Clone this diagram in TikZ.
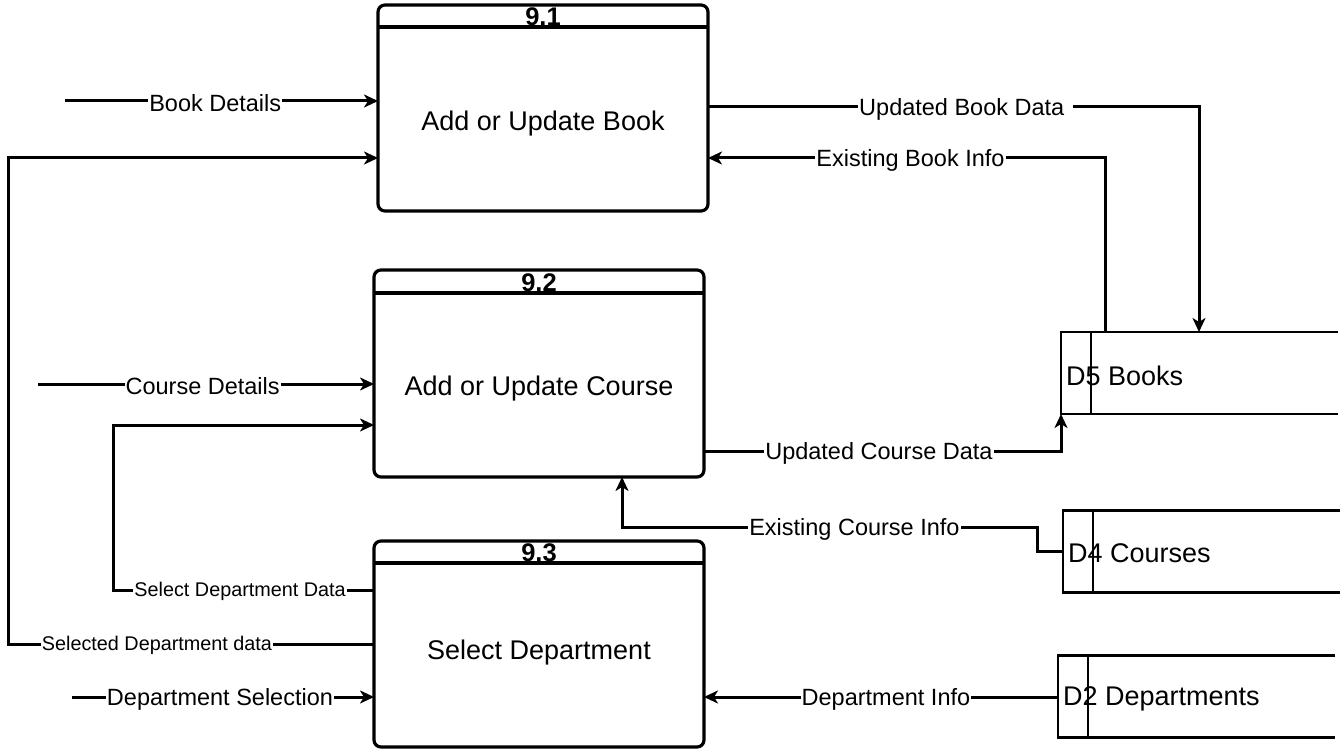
\documentclass[tikz,border=0pt]{standalone}
\usepackage{fontspec}
\setmainfont{Liberation Sans}
\usetikzlibrary{arrows.meta,calc}
\begin{document}
\begin{tikzpicture}[x=1pt,y=-1pt,
  procbox/.style={draw,line width=3.2pt,rounded corners=7pt,minimum width=330pt,inner sep=0pt,outer sep=0pt},
  storebox/.style={inner sep=0pt,outer sep=0pt,minimum width=277pt,minimum height=82pt},
  storeline/.style={line width=2.2pt},
  flow/.style={line width=3pt,-{Stealth[length=14pt,width=13pt,inset=4pt]}},
  lbl/.style={fill=white,inner sep=1pt,yshift=-2pt,font=\fontsize{23.5}{26}\selectfont},
  slbl/.style={fill=white,inner sep=1pt,yshift=-1.5pt,font=\fontsize{19.8}{22}\selectfont},
  maintxt/.style={font=\fontsize{27}{32}\selectfont,inner sep=0pt},
  headtxt/.style={font=\bfseries\fontsize{25.5}{28}\selectfont,inner sep=0pt},
  storetxt/.style={font=\fontsize{27}{32}\selectfont,inner sep=0pt,anchor=west}]
\useasboundingbox[fill=white] (0,0) rectangle (1342,749);

% processes
\node[procbox,minimum height=206pt] (b1) at (543,108) {};
\draw[line width=3.2pt] ($(b1.north west)+(0,22)$) -- ($(b1.north east)+(0,22)$);
\node[headtxt] (h1) at (543,17) {9.1};
\node[maintxt] (t1) at (543,124) {Add or Update Book};

\node[procbox,minimum height=207pt] (b2) at (539,373.5) {};
\draw[line width=3.2pt] ($(b2.north west)+(0,23)$) -- ($(b2.north east)+(0,23)$);
\node[headtxt] (h2) at (539,282.5) {9.2};
\node[maintxt] (t2) at (539,389) {Add or Update Course};

\node[procbox,minimum height=206pt] (b3) at (539,644) {};
\draw[line width=3.2pt] ($(b3.north west)+(0,22)$) -- ($(b3.north east)+(0,22)$);
\node[headtxt] (h3) at (539,552.5) {9.3};
\node[maintxt] (t3) at (539,653) {Select Department};

% data stores
\node[storebox] (ds5) at (1199.5,373) {};
\draw[storeline] (ds5.north east) -- (ds5.north west) -- (ds5.south west) -- (ds5.south east);
\draw[storeline] ($(ds5.north west)+(30,0)$) -- ($(ds5.south west)+(30,0)$);
\node[storetxt] (s5) at (1066,375.5) {D5 Books};

\node[storebox] (ds4) at (1201.5,551.5) {};
\draw[storeline] (ds4.north east) -- (ds4.north west) -- (ds4.south west) -- (ds4.south east);
\draw[storeline] ($(ds4.north west)+(30,0)$) -- ($(ds4.south west)+(30,0)$);
\node[storetxt] (s4) at (1068,553.5) {D4 Courses};

\node[storebox] (ds2) at (1196.5,696.5) {};
\draw[storeline] (ds2.north east) -- (ds2.north west) -- (ds2.south west) -- (ds2.south east);
\draw[storeline] ($(ds2.north west)+(30,0)$) -- ($(ds2.south west)+(30,0)$);
\node[storetxt] (s2) at (1063,698.5) {D2 Departments};

% free ends
\coordinate (bdin) at (65,101);
\coordinate (cdin) at (38,384);
\coordinate (dsin) at (72,697);

% connectors
\draw[flow] (bdin) -- node[lbl,pos=0.48]{Book Details} (bdin -| b1.west);
\draw[flow] (cdin) -- node[lbl,pos=0.49]{Course Details} (cdin -| b2.west);
\draw[flow] (dsin) -- node[lbl,pos=0.49]{Department Selection} (dsin -| b3.west);

\draw[flow] (b3.west |- 0,644) -- node[slbl,pos=0.593]{Selected Department data} (8,644) -- (8,158) -- (b1.west |- 0,158);
\draw[flow] (b3.west |- 0,590) -- node[slbl,pos=0.513]{Select Department Data} (113,590) -- (113,425) -- (b2.west |- 0,425);

\draw[flow] (b1.east |- 0,107) -- node[lbl,pos=0.525]{Updated Book Data\rule{8pt}{0pt}} (1199,107) -- (ds5.north -| 1199,0);
\draw[flow] (ds5.north -| 1105,0) -- (1105,158) -- node[lbl,pos=0.49]{Existing Book Info} (b1.east |- 0,158);
\draw[flow] (b2.east |- 0,451) -- node[lbl,pos=0.49]{Updated Course Data} (ds5.west |- 0,451) -- (ds5.south west);
\draw[flow] (ds4.west |- 0,551) -- (1037,551) -- (1037,527) -- node[lbl,pos=0.44]{Existing Course Info} (622,527) -- (b2.south -| 622,0);
\draw[flow] (ds2.west |- 0,697) -- node[lbl,pos=0.486]{Department Info} (b3.east |- 0,697);
\end{tikzpicture}
\end{document}
